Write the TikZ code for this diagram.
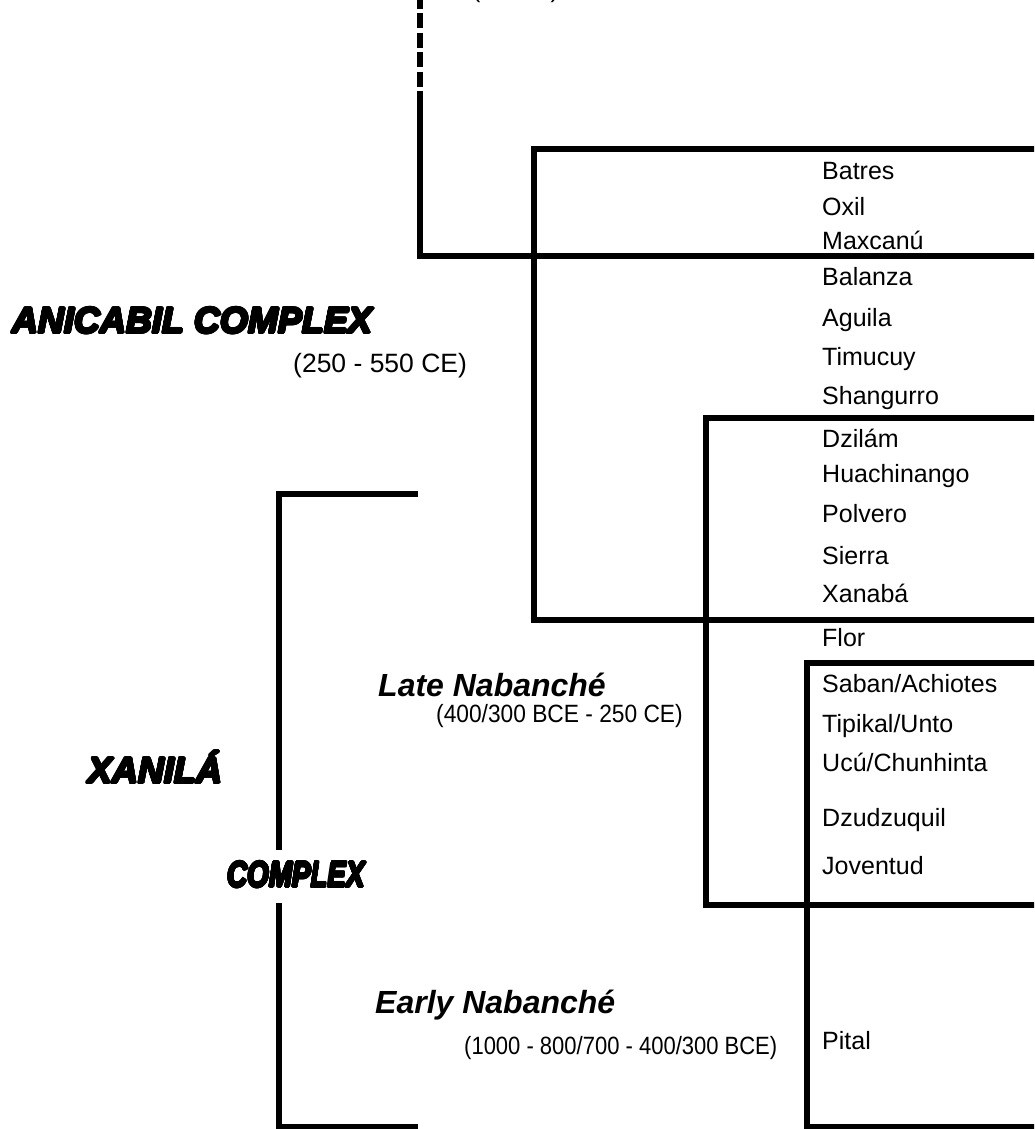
\documentclass[tikz,border=0pt]{standalone}
\usepackage{graphicx}
\usepackage{fontspec}
\usepackage[copies]{contour}
\setmainfont{Liberation Sans}
\contourlength{1.1pt}
\contournumber{24}
\newcommand{\heavy}[1]{\contour{black}{#1}}
\newcommand{\narrow}[2][0.88]{\scalebox{#1}[1]{#2}}
\begin{document}
\begin{tikzpicture}[x=1pt,y=-1pt,
  rule/.style={line width=5.5pt},
  entry/.style={anchor=base west,inner sep=0pt,font=\fontsize{25}{30}\selectfont},
  span/.style={anchor=base west,inner sep=0pt,font=\fontsize{25}{30}\selectfont},
  phase/.style={anchor=base west,inner sep=0pt,font=\fontsize{32}{38}\selectfont\bfseries\itshape},
  complex/.style={anchor=base west,inner sep=0pt,font=\fontsize{36}{42}\selectfont\bfseries\itshape}]
  \useasboundingbox (0,0) rectangle (1034,1129);
  \clip (0,0) rectangle (1034,1129);
  % line coming from above
  \draw[rule,dash pattern=on 15pt off 4.5pt] (420,-6) -- (420,108);
  \draw[rule] (420,105) -- (420,256) -- (1040,256);
  % ware boxes
  \draw[rule] (1040,149) -- (534,149) -- (534,620) -- (1040,620);
  \draw[rule] (1040,418) -- (706,418) -- (706,905) -- (1040,905);
  \draw[rule] (1040,663) -- (807,663) -- (807,1127) -- (1040,1127);
  % Xanila bracket
  \draw[rule] (418,494) -- (279,494) -- (279,850);
  \draw[rule] (279,903) -- (279,1127) -- (418,1127);
  % ware names
  \foreach \ware/\yy [count=\i] in {Batres/179, Oxil/215, Maxcanú/249, Balanza/285,
      Aguila/326, Timucuy/365, Shangurro/404, Dzilám/447, Huachinango/482,
      Polvero/522, Sierra/564, Xanabá/602, Flor/646, {Saban/Achiotes}/692,
      {Tipikal/Unto}/732, {Ucú/Chunhinta}/771, Dzudzuquil/826, Joventud/874, Pital/1049}
    \node[entry] (ware\i) at (822,\yy) {\ware};
  % complexes and phases
  \node[span] (above) at (472,-2) {(\hspace{70pt})};
  \node[complex] (anicabil) at (12,333) {\heavy{ANICABIL COMPLEX}};
  \node[span,font=\fontsize{26.5}{30}\selectfont] (anicabil-date) at (293,372) {(250 - 550 CE)};
  \node[complex] (xanila) at (88,783) {\heavy{XANILÁ}};
  \node[complex,anchor=base east] (xanila-2) at (365,887) {\scalebox{0.77}[1]{\heavy{COMPLEX}}};
  \node[phase] (late) at (378,696) {Late Nabanché};
  \node[span] (late-date) at (436,722) {\narrow[0.91]{(400/300 BCE - 250 CE)}};
  \node[phase] (early) at (375,1013) {Early Nabanché};
  \node[span] (early-date) at (464,1054) {\narrow{(1000 - 800/700 - 400/300 BCE)}};
\end{tikzpicture}
\end{document}
